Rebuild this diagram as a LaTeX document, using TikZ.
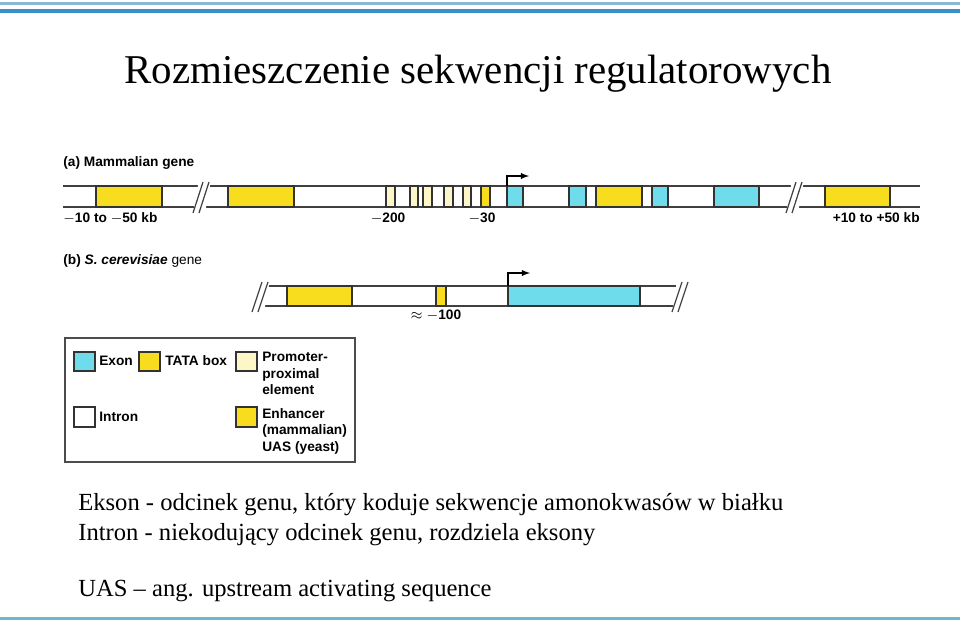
\documentclass[tikz,border=0pt]{standalone}
\usepackage{fontspec}
\setmainfont{Liberation Serif}
\setsansfont{Liberation Sans}
\usetikzlibrary{positioning}
\definecolor{exoncol}{HTML}{6FDCEB}
\definecolor{tatacol}{HTML}{F8DD1E}
\definecolor{proxcol}{HTML}{FDF7C8}
\definecolor{rulecol}{HTML}{3A8FCB}
\definecolor{rulelight}{HTML}{8AB8DA}
\definecolor{rulebot}{HTML}{6DB7CF}
\tikzset{
  % gene segments
  exon/.style={draw=black!80, fill=exoncol, line width=0.7pt},
  tata/.style={draw=black!80, fill=tatacol, line width=0.7pt},
  prox/.style={draw=black!80, fill=proxcol, line width=0.7pt},
  intron/.style={draw=black!80, fill=white, line width=0.7pt},
  strand/.style={draw=black!75, line width=0.7pt},
  lbl/.style={font=\sffamily\bfseries\fontsize{7.8}{9.4}\selectfont, inner sep=0pt},
  txt/.style={font=\fontsize{14}{16}\selectfont, anchor=west, inner sep=0pt},
}
% slanted break in a strand
\newcommand{\strandbreak}[3]{% x, top, bottom
  \fill[white] (#1-6,#2-6) -- (#1+6,#2-6) -- (#1+0,#3+6) -- (#1-12,#3+6) -- cycle;
  \draw[strand] (#1-2,#2-4) -- (#1-12,#3+6);
  \draw[strand] (#1+4,#2-4) -- (#1-6,#3+6);
}
\begin{document}
\begin{tikzpicture}[x=0.02cm, y=-0.02cm]
  \useasboundingbox (0,0) rectangle (960,620);
  % frame rules
  \draw[rulelight, line width=1.2pt] (0,3.5) -- (960,3.5);
  \draw[rulecol, line width=2.4pt] (0,11) -- (960,11);
  \draw[rulebot, line width=1.2pt] (0,618.5) -- (960,618.5);

  \node (title) at (478,74) {\fontsize{23.3}{26}\selectfont Rozmieszczenie sekwencji regulatorowych};

  % (a) mammalian gene
  \node[lbl, anchor=west] (alabel) at (63,163) {(a) Mammalian gene};
  \draw[strand] (63,186) -- (920,186) (63,207) -- (920,207);
  \draw[tata] (96,186) rectangle (162,207);
  \draw[tata] (228,186) rectangle (294,207);
  \foreach \a/\b in {386/395, 410/418, 423/432, 444/453, 463/471}
    \draw[prox] (\a,186) rectangle (\b,207);
  \draw[tata] (481,186) rectangle (490,207);
  \draw[exon] (507,186) rectangle (523,207);
  \draw[exon] (569,186) rectangle (586,207);
  \draw[tata] (596,186) rectangle (642,207);
  \draw[exon] (652,186) rectangle (668,207);
  \draw[exon] (714,186) rectangle (759,207);
  \draw[tata] (825,186) rectangle (890,207);
  \strandbreak{205}{186}{207}
  \strandbreak{798}{186}{207}
  \coordinate (astart) at (507,186);
  \coordinate (aend) at (529,176);
  \draw[black, line width=0.6pt, -latex] (astart) |- (aend);
  \node[lbl, anchor=west] (aleft) at (63,218) {$-$10 to $-$50 kb};
  \node[lbl] (a200) at (388,218) {$-$200};
  \node[lbl] (a30) at (482,218) {$-$30};
  \node[lbl, anchor=east] (aright) at (920,218) {+10 to +50 kb};

  % (b) yeast gene
  \node[lbl, anchor=west] (blabel) at (63,261) {(b) \textit{S. cerevisiae} \textmd{gene}};
  \draw[strand] (258,286) -- (676,286) (258,306) -- (676,306);
  \draw[tata] (287,286) rectangle (352,306);
  \draw[tata] (436,286) rectangle (446,306);
  \draw[exon] (508,286) rectangle (640,306);
  \strandbreak{264}{286}{306}
  \strandbreak{684}{286}{306}
  \coordinate (bstart) at (508,286);
  \coordinate (bend) at (530,273);
  \draw[black, line width=0.6pt, -latex] (bstart) |- (bend);
  \node[lbl] (b100) at (436,315) {$\approx -$100};

  % legend
  \draw[black!70, line width=0.8pt] (65,338) rectangle (355,462);
  \draw[exon] (74,352) rectangle (95,371);
  \draw[tata] (139,352) rectangle (160,371);
  \draw[prox] (236,352) rectangle (257,371);
  \draw[intron] (74,407) rectangle (95,427);
  \draw[tata] (236,407) rectangle (257,427);
  \node[lbl, anchor=west] (lexon) at (99,361) {Exon};
  \node[lbl, anchor=west] (ltata) at (165,361) {TATA box};
  \node[lbl, anchor=north west, align=left] (lprox) at (262,352) {Promoter-\\proximal\\element};
  \node[lbl, anchor=west] (lintron) at (99,417) {Intron};
  \node[lbl, anchor=north west, align=left] (lenh) at (262,408) {Enhancer\\(mammalian)\\UAS (yeast)};

  % notes
  \node[txt] (n1) at (78,505) {Ekson - odcinek genu, który koduje sekwencje amonokwasów w białku};
  \node[txt] (n2) at (78,535) {Intron -  niekodujący odcinek genu, rozdziela eksony};
  \node[txt] (n3) at (78,591) {UAS – ang. upstream activating sequence};
\end{tikzpicture}
\end{document}
